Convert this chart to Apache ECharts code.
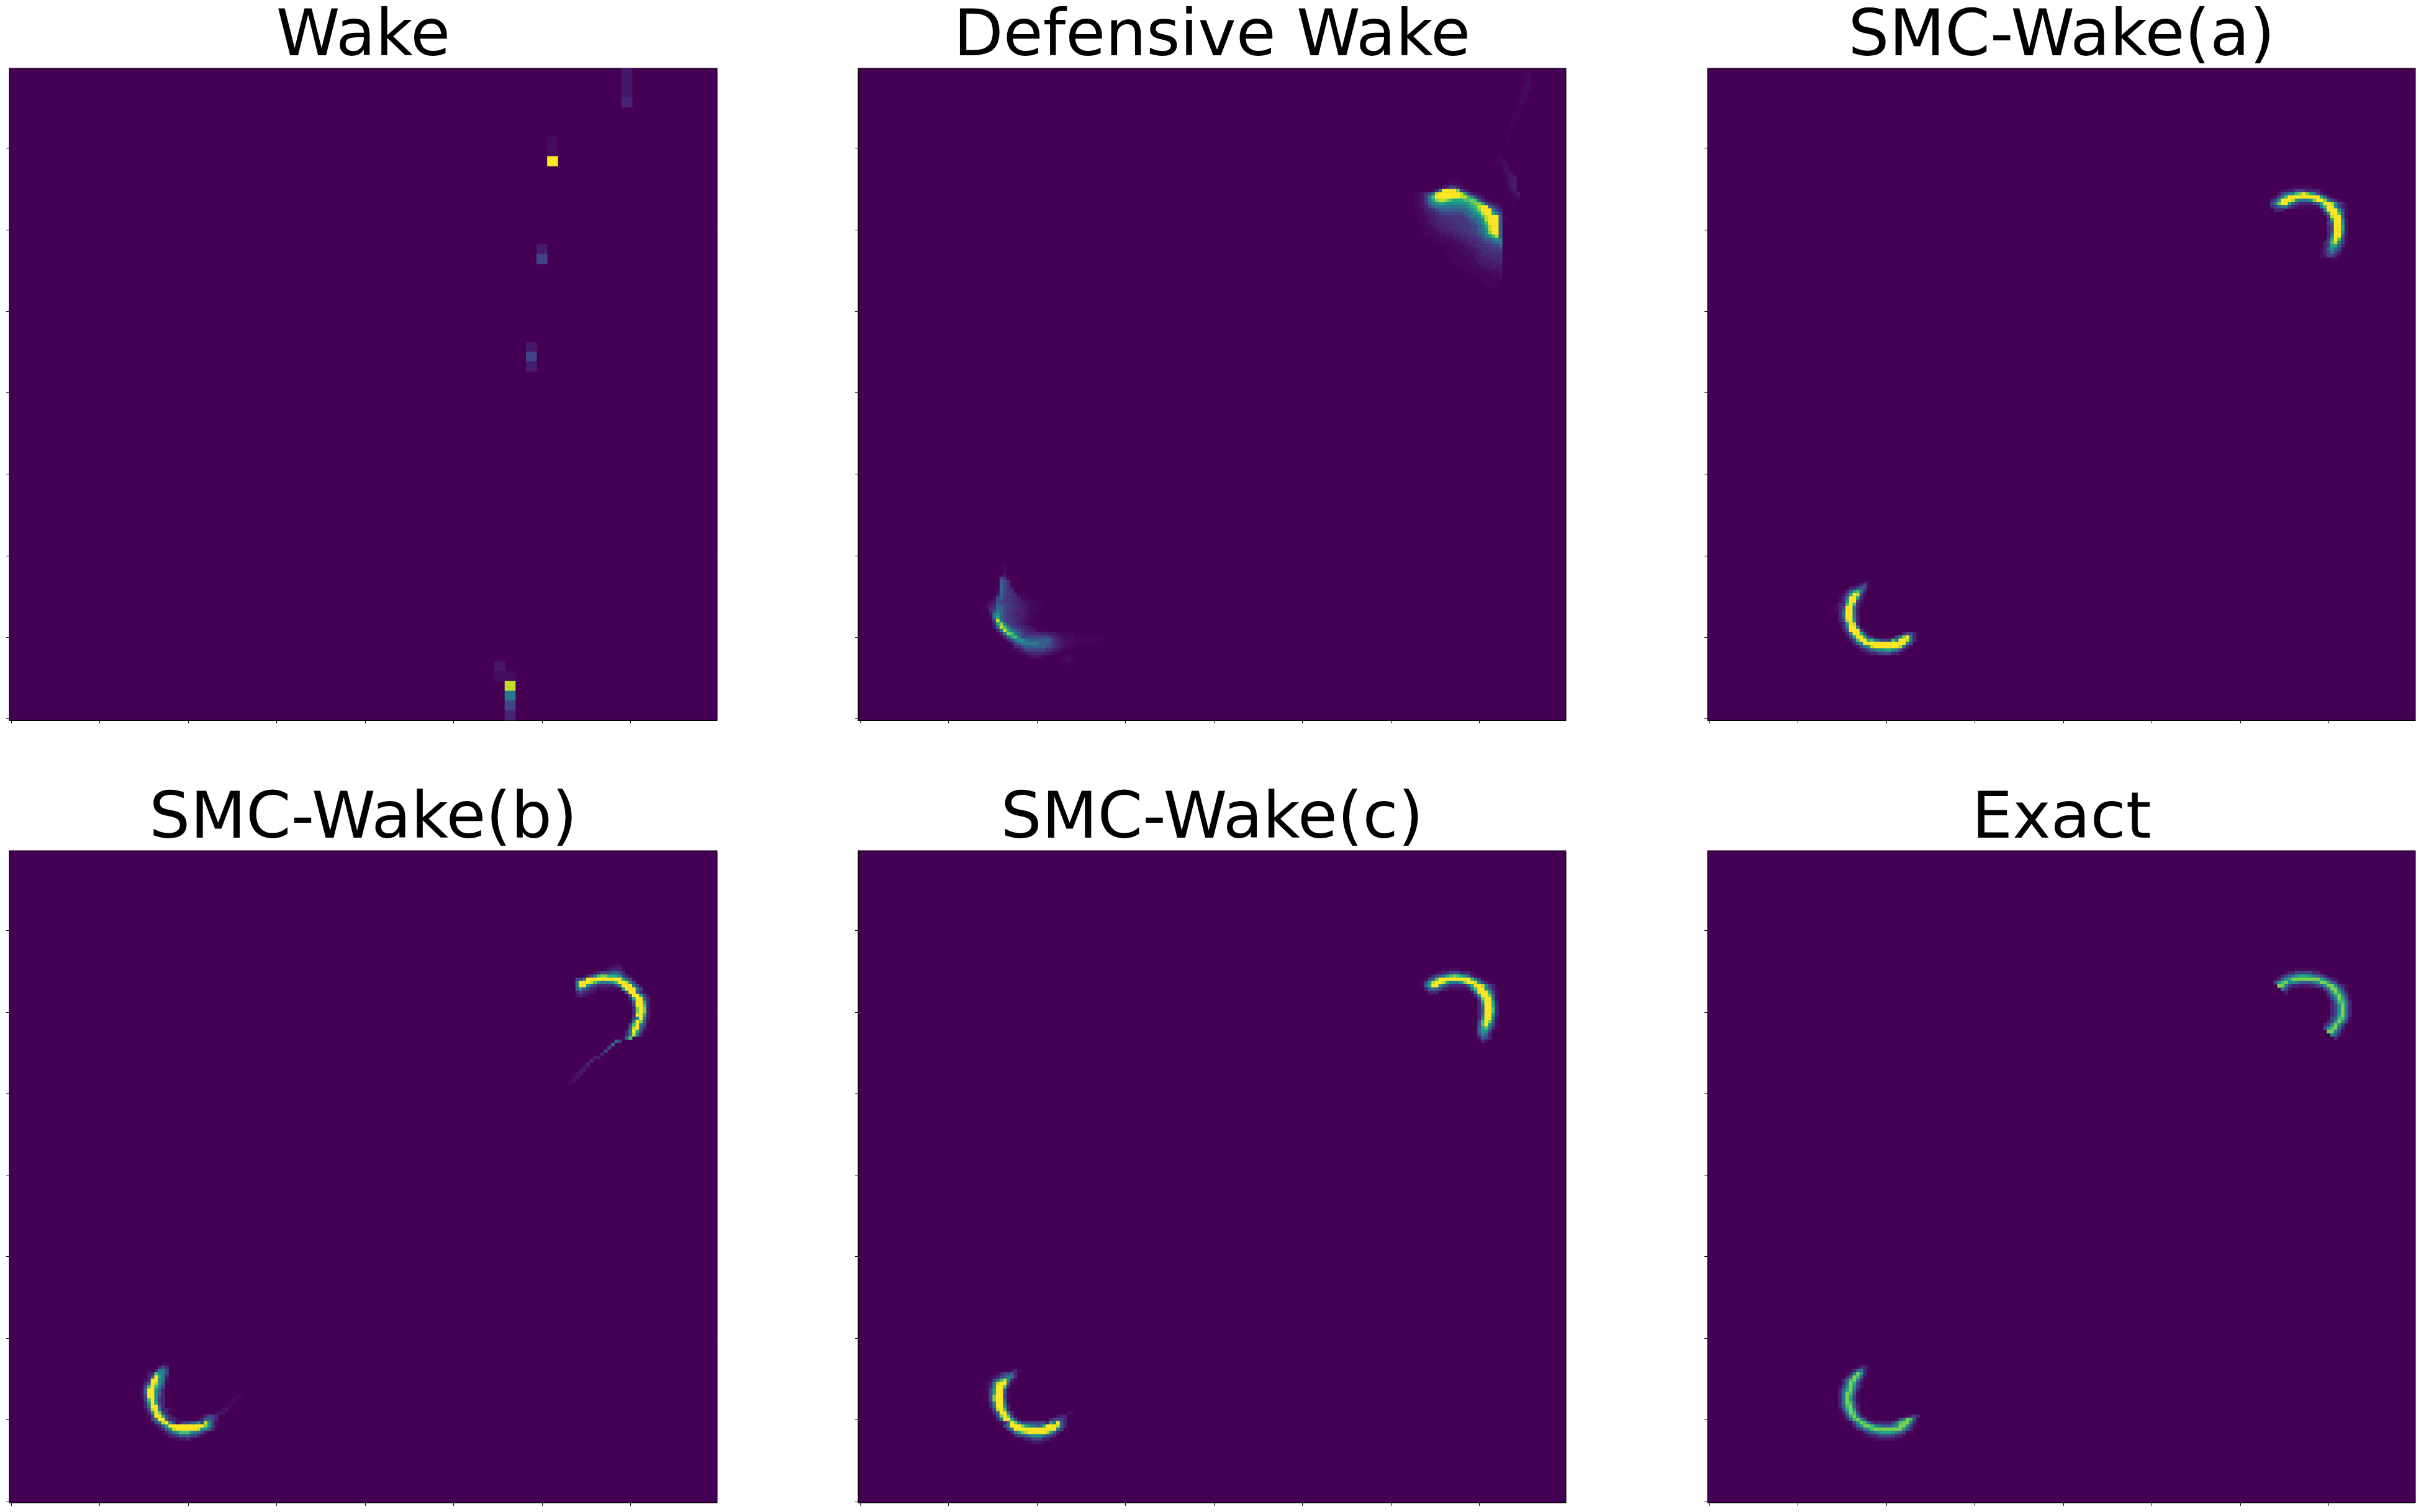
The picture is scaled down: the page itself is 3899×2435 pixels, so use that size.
<!DOCTYPE html>
<html>
<head>
<meta charset="utf-8">
<script src="https://cdn.jsdelivr.net/npm/echarts@6/dist/echarts.min.js"></script>
<style>html,body{margin:0;padding:0;background:#fff}#chart{width:3899px;height:2435px}</style>
</head>
<body>
<div id="chart"></div>
<script>
// Panel titles
const panelTitles = ['Wake','Defensive Wake','SMC-Wake(a)','SMC-Wake(b)','SMC-Wake(c)','Exact'];
// Cell values are written as [image row from top, first column, level characters]
const levelValues = {'z':0.015,'a':0.03,'b':0.06,'c':0.08,'1':0.1,'d':0.13,'e':0.16,'2':0.2,'3':0.3,'4':0.4,'5':0.5,'6':0.6,'7':0.7,'8':0.8,'9':0.9,'Y':1};
const gridSize = 200;
const tickStep = 25;
const viridis = ['#440154','#482475','#414487','#355f8d','#2a788e','#21918c','#22a884','#44bf70','#7ad151','#bddf26','#fde725'];

const wakeRows = [
[0,173,'bbb'],[1,173,'bbb'],[2,173,'bbb'],[3,173,'bbb'],[4,173,'bbb'],[5,173,'bbb'],[6,173,'bbb'],[7,173,'bbb'],[8,173,'bbb'],[9,173,'111'],[10,173,'111'],[11,173,'111'],
[21,152,'aaa'],[22,152,'aaa'],[23,152,'aaa'],[24,152,'aaa'],[25,152,'aaa'],[26,152,'aaa'],[27,152,'YYY'],[28,152,'YYY'],[29,152,'YYY'],
[54,149,'ccc'],[55,149,'ccc'],[56,149,'ccc'],[57,149,'222'],[58,149,'222'],[59,149,'222'],
[84,146,'bbb'],[85,146,'bbb'],[86,146,'bbb'],[87,146,'222'],[88,146,'222'],[89,146,'222'],[90,146,'ccc'],[91,146,'ccc'],[92,146,'ccc'],
[182,137,'bbb'],[183,137,'bbb'],[184,137,'bbb'],[185,137,'aaaaaa'],[186,137,'aaaaaa'],[187,137,'aaaaaa'],
[188,140,'999'],[189,140,'999'],[190,140,'999'],[191,140,'444'],[192,140,'444'],[193,140,'444'],[194,140,'222'],[195,140,'222'],[196,140,'222'],[197,140,'111'],[198,140,'111'],[199,140,'111']
];

const defensiveWakeRows = [
[1,188,'zz'],[2,188,'za'],[3,188,'za'],[4,188,'za'],[5,188,'aa'],[6,187,'zaa'],[7,187,'za'],[8,187,'za'],[9,187,'za'],[10,186,'za'],[11,186,'zz'],[12,186,'zz'],[13,185,'zz'],[14,185,'zz'],[15,185,'z'],[16,184,'zz'],[17,184,'z'],[18,184,'z'],[20,183,'z'],[22,183,'z'],
[26,181,'z'],[27,180,'zz'],[28,180,'zza'],[29,181,'zaa'],[30,182,'aa'],[31,182,'aa'],[32,182,'zab'],[33,183,'abc'],[34,183,'abc'],[35,183,'abc'],[36,184,'bc'],[37,184,'ab'],[38,184,'zab'],[39,185,'za'],[40,185,'z'],[41,185,'z'],
[34,167,'zzz'],[35,166,'zaaaz'],[36,164,'zb1221a'],
[37,162,'a14YYYY821a'],
[38,157,'zabd249YYYYYY9621ba'],
[39,157,'zabe47YYYYYYY997521b'],
[40,157,'zabe4689987666778731ba'],
[41,157,'zabd34566555555678862 1ba'.split(' ').join('')],
[42,157,'zabc23444444444567 9YY321a'.split(' ').join('')],
[43,157,'zzac1d233333333 4568YYY421'.split(' ').join('')],
[44,158,'zabc1de22222233456 9YY642'.split(' ').join('')],
[45,158,'zzabc1dddeeee2344579YYY3a'],
[46,158,'zzabc11dddeeee233459YYY3'],
[47,158,'zzabbc11dddeeee23457YYY3'],
[48,158,'zzzabcc11dddeee223469YY3'],
[49,159,'zzaabcc11dddee223459YY3'],
[50,159,'zzzaabbcc11ddee23358YY3'],
[51,160,'zzzaaabbcc11dee2345793'],
[52,162,'zzaaaabbcc1dde233454'],
[53,164,'zzzaaabbc11de22334'],
[54,165,'zzzaaabbc1ddee223'],
[55,165,'zzzzaaabbc1ddeee2'],
[56,165,'zzzzzaaabbc1dddde'],
[57,166,'zzzzzaaabc111ddd'],
[58,167,'zzzzzaabbcc1111'],
[59,168,'zzzzaaabbccc11z'],
[60,169,'zzzzaaabbbccc'],
[61,171,'zzzzaaabbbb'],
[62,172,'zzzzzaaaab'],
[63,174,'zzzzzaaa'],
[64,176,'zzzzaa'],
[65,177,'zzzzz'],
[66,178,'zzzz'],
[152,41,'z'],[153,41,'z'],[154,41,'z'],[155,40,'zb'],[156,40,'2dz'],[157,40,'32dz'],[158,40,'32dz'],[159,39,'z32dc'],[160,39,'a32edz'],[161,39,'b32ed1az'],
[162,38,'a232ed1caz'],
[163,36,'zab22eed1cbaazz'],
[164,36,'zb1322eed1cbaazzz'],
[165,36,'a1d332eed1cbaazz'],
[166,37,'12432edd1cbaaz'],
[167,37,'b4532ed1ccbaz'],
[168,37,'a4632ed11cbaz'],
[169,38,'2942eedcbaz'],
[170,38,'16842edcbaz'],
[171,38,'b39742ed1cbaz'],
[172,39,'1496432d1cbaazz'],
[173,40,'1487432dd111ccbbaazzz'],
[174,41,'1367422222222d1cbaaazzzzzzzz'],
[175,42,'1245543333333d1bbaazzzzzzz'],
[176,43,'b23444443332dcbaazzzz'],
[177,44,'1d233333322d1bazz'],
[178,45,'b1222222ddcbaz'],
[179,46,'ab11111cbaz'],
[180,47,'zabbaz'],[180,58,'zaz'],[181,57,'zaaz'],[182,58,'zz']
];

const smcWakeARows = [
[36,165,'aaaaaa'],[37,162,'ab112221111a'],[38,161,'b234578Y86521a'],[39,160,'b247YYYYYYYYY631a'],
[40,159,'125YYY9544458YY8421a'],[41,159,'248YY6321111236YY9521a'],[42,159,'1234421baaaaab47YY521a'],
[43,160,'111'],[43,173,'b4YYY52a'],[44,174,'15YY73a'],[45,175,'29YY3a'],[46,175,'16YY5b'],[47,175,'23YY5b'],[48,175,'12YY6b'],[49,175,'12YY6b'],[50,175,'13YY5b'],[51,175,'14YY3b'],[52,175,'26Y72a'],[53,174,'127942a'],[54,174,'126631'],[55,173,'a13532a'],[56,173,'a12421'],[57,173,'ab221a'],[58,176,'aa'],
[157,44,'aa'],[158,42,'a12a'],[159,40,'11232a'],[160,39,'136741'],[161,38,'b26Y92a'],[162,37,'a14YY61'],[163,37,'a15YY2b'],[164,36,'a117Y71a'],[165,36,'a12YY41'],[166,36,'a13YY4b'],[167,37,'14YY4b'],[168,37,'13YY41'],[169,37,'129Y51'],[170,37,'a15Y91'],[171,38,'14YY4a'],[172,38,'b2YYY2a'],
[173,39,'14YY62a'],[173,55,'1221a'],[174,39,'a26YY621a'],[174,52,'a248Y41'],
[175,40,'b27YY674322274YY941'],[176,41,'135YYYYYYYYYYYY42'],[177,42,'b2459YYYYYYY941'],[178,43,'b12345566542b'],[179,44,'ab11222211a']
];

const smcWakeBRows = [
[35,170,'abb'],[36,168,'ab111a'],[37,165,'b12223321'],[38,163,'124788666521a'],[39,160,'224YYYYYYYYYY632a'],[40,160,'4YYY97544457YY942a'],[41,160,'4YY5321111124YYY42a'],[42,160,'35321baaaaaaa5YYY42'],
[43,160,'1211ba'],[43,174,'3YY31a'],[44,160,'b1ba'],[44,175,'3YY62a'],[45,175,'16YY31'],[46,175,'a3YY61'],[47,176,'2YY71'],[48,176,'18Y81'],[49,176,'18Y81'],[50,176,'1YY61'],[51,176,'25Y4b'],[52,175,'a4Y83a'],[53,175,'27Y42'],[54,175,'39Y31'],[55,174,'14Y62a'],[56,174,'14941'],[57,173,'a37'],[58,171,'32'],[59,170,'3'],[60,169,'2'],[61,168,'2'],[62,167,'1'],[63,165,'cc'],[64,164,'1'],[65,163,'1'],[66,162,'ba'],[67,161,'bb'],[68,160,'ab'],[69,159,'ab'],[70,159,'b'],[71,158,'a'],
[157,43,'aa'],[158,42,'121'],[159,39,'a.1442'],[160,39,'b17542'],[161,39,'13Y641'],[162,38,'b1YY54b'],[163,38,'13Y953a'],[164,37,'a27Y742'],[165,37,'a3YY531'],[166,37,'b3YY531'],[167,37,'a2YY521'],[168,38,'27Y521'],[169,38,'15Y621'],[170,38,'14YY31'],[171,38,'a29Y411a'],[171,60,'ab'],[172,39,'15Y821'],[172,58,'abb'],[173,39,'a2YY621a'],[173,54,'a1221'],[174,40,'24YY311a'],[174,53,'a13321'],
[175,41,'249Y52a1223352952a'],[176,41,'a136YYYYYYYYYY852a'],[177,42,'a1359YYYYYY95531'],[178,43,'a12457775432b'],[179,45,'112333221a'],[180,46,'aabb1a'],[170,61,'aa'],[169,62,'a'],[168,63,'a'],[167,64,'az'],[166,65,'z']
];

const smcWakeCRows = [
[36,165,'aaaaa'],[37,163,'ab11222111a'],[38,161,'a123467876531a'],[39,160,'a237YYYYYYYYY742a'],
[40,159,'a259YY9644458YY9521a'],[41,159,'a36YY5321111136YY9521'],[42,160,'134321baaaaab47YY531a'],
[43,161,'111'],[43,173,'b4YYY62a'],[44,174,'15YY83a'],[45,175,'28YY4a'],[46,175,'16YY6b'],[47,175,'14YY61'],[48,175,'13YY71'],[49,175,'13YY71'],[50,175,'14YY51'],[51,175,'15YY4b'],[52,175,'27Y83a'],[53,175,'27Y52a'],[54,175,'36741'],[55,175,'3552a'],[56,175,'2431'],[57,175,'b321'],[58,176,'1a'],
[159,43,'a1a'],[160,39,'a12231'],[161,37,'ab123441'],[162,37,'a247951'],[163,36,'a149YY3a'],[164,36,'a15YY71'],[165,36,'a26YY3a'],[166,36,'a26YY3a'],[167,36,'a28YY2a'],[168,36,'a28YY3a'],[169,37,'15YY4a'],[170,37,'14YY51'],[171,37,'a29Y71'],[172,38,'13YY41'],[172,59,'aa'],[173,38,'a28Y82a'],[173,56,'b11'],[174,39,'14YY62a'],[174,54,'12221'],
[175,40,'a14Y842222222164Y31'],[176,41,'24YYY8654336YYY931'],[177,42,'24YYYYYYYYYYYY42'],[178,43,'14689YYYYY9631'],[179,44,'122345554221'],[180,46,'a1122211a'],[181,48,'abbba']
];

const exactRows = [
[36,166,'aaaaaa'],[37,163,'a112222211a'],[38,161,'a1234566654321a'],[39,160,'a1356888888886421a'],[40,160,'257855433334588632a'],[41,161,'884211bbb1123588521a'],[42,162,'42b'],[42,173,'a248842a'],[43,163,'1'],[43,174,'a258631'],[44,175,'136852a'],[45,175,'a24863a'],[46,176,'137741'],[47,176,'125841'],[48,176,'125841'],[49,176,'125841'],[50,176,'126841'],[51,175,'a23773a'],[52,175,'125852a'],[53,174,'125852a'],[54,174,'257831'],[55,175,'8842a'],[56,176,'531a'],[57,177,'1'],
[158,42,'a11a'],[159,40,'a1341a'],[160,39,'a14851'],[161,39,'13873a'],[162,38,'137841'],[163,38,'14862a'],[164,37,'a25852b'],[165,37,'136841'],[166,37,'14873a'],[167,37,'14862a'],[168,37,'14862a'],[169,37,'14873a'],[170,37,'137831'],[171,37,'a26851'],[172,38,'14872a'],[173,38,'a26841a'],[173,56,'a121'],[174,39,'137852a'],[174,53,'a24872'],
[175,40,'a258742111112478841'],[176,41,'13588754333458852a'],[177,42,'1245788888888531'],[178,43,'a123456665432a'],[179,44,'ab112222211a'],[180,47,'abbbbba']
];

const panelRows = [wakeRows, defensiveWakeRows, smcWakeARows, smcWakeBRows, smcWakeCRows, exactRows];

function toCells(rows){
  const cells = [];
  rows.forEach(function(r){
    r[2].split('').forEach(function(ch,i){
      const v = levelValues[ch];
      if (v !== undefined) cells.push([r[1]+i, gridSize-1-r[0], v]);
    });
  });
  return cells;
}

const categories = [];
for (let i=0;i<gridSize;i++) categories.push(String(i));

const panelLefts = [15,1382,2750];
const panelTops = [110,1370];
const panelWidth = 1140, panelHeight = 1050;

const grids=[], xAxes=[], yAxes=[], series=[], titles=[];
panelTitles.forEach(function(name,idx){
  const left = panelLefts[idx%3], top = panelTops[Math.floor(idx/3)];
  grids.push({left:left,top:top,width:panelWidth,height:panelHeight,show:true,backgroundColor:'#440154',borderColor:'#000',borderWidth:1,containLabel:false});
  const axisBase = {type:'category',data:categories,gridIndex:idx,boundaryGap:true,
    axisLine:{show:true,onZero:false,lineStyle:{color:'#000',width:1}},
    axisTick:{show:true,alignWithLabel:true,interval:tickStep-1,length:5,lineStyle:{color:'#000',width:1}},
    axisLabel:{show:false},splitLine:{show:false},splitArea:{show:false}};
  xAxes.push(Object.assign({},axisBase));
  yAxes.push(Object.assign({},axisBase));
  series.push({type:'heatmap',xAxisIndex:idx,yAxisIndex:idx,data:toCells(panelRows[idx]),progressive:0,silent:true,animation:false,itemStyle:{borderWidth:0},emphasis:{disabled:true}});
  titles.push({text:name,left:left+panelWidth/2,top:top-100,padding:0,textAlign:'center',textStyle:{fontFamily:'DejaVu Sans',fontSize:104,fontWeight:'normal',color:'#000'}});
});

const chart = echarts.init(document.getElementById('chart'),null,{renderer:'canvas'});
chart.setOption({
  animation:false,
  backgroundColor:'#fff',
  title:titles,grid:grids,xAxis:xAxes,yAxis:yAxes,series:series,
  tooltip:{show:false},
  visualMap:{show:false,type:'continuous',min:0,max:1,dimension:2,seriesIndex:series.map(function(s,i){return i;}),inRange:{color:viridis}}
});
</script>
</body>
</html>
